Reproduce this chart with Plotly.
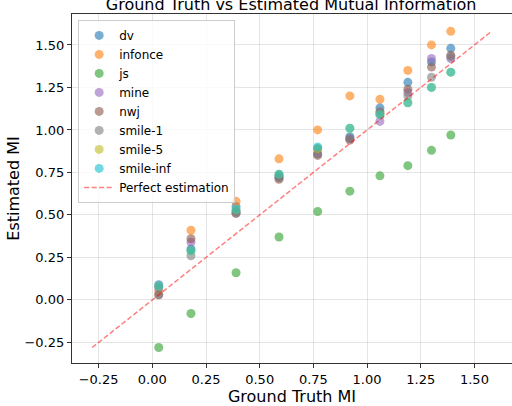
import plotly.graph_objects as go

ground_truth = [0.03, 0.18, 0.39, 0.59, 0.77, 0.92, 1.06, 1.19, 1.30, 1.39]

methods = ["dv", "infonce", "js", "mine", "nwj", "smile-1", "smile-5", "smile-inf"]

dv = [0.09, 0.30, 0.55, 0.73, 0.89, 0.96, 1.13, 1.28, 1.40, 1.48]
infonce = [0.05, 0.41, 0.58, 0.83, 1.00, 1.20, 1.18, 1.35, 1.50, 1.58]
js = [-0.28, -0.08, 0.16, 0.37, 0.52, 0.64, 0.73, 0.79, 0.88, 0.97]
mine = [0.07, 0.34, 0.52, 0.72, 0.86, 0.95, 1.05, 1.22, 1.42, 1.42]
nwj = [0.03, 0.36, 0.51, 0.71, 0.85, 0.94, 1.10, 1.24, 1.37, 1.44]
smile_1 = [0.03, 0.26, 0.51, 0.72, 0.86, 0.95, 1.11, 1.20, 1.31, 1.43]
smile_5 = [0.08, 0.29, 0.53, 0.74, 0.89, 1.01, 1.09, 1.16, 1.25, 1.34]
smile_inf = [0.08, 0.29, 0.53, 0.74, 0.90, 1.01, 1.09, 1.16, 1.25, 1.34]

colors = ["#1f77b4", "#ff7f0e", "#2ca02c", "#9467bd", "#8c564b", "#7f7f7f", "#bcbd22", "#17becf"]

series = [dv, infonce, js, mine, nwj, smile_1, smile_5, smile_inf]

fig = go.Figure()
for name, vals, col in zip(methods, series, colors):
    fig.add_trace(go.Scatter(
        x=ground_truth, y=vals, mode="markers", name=name,
        marker=dict(color=col, size=9, opacity=0.6, line=dict(width=0)),
    ))

all_vals = [v for s in series for v in s]
lo, hi = min(all_vals), max(all_vals)
fig.add_trace(go.Scatter(
    x=[lo, hi], y=[lo, hi], mode="lines", name="Perfect estimation",
    line=dict(color="rgba(255,0,0,0.5)", width=1.5, dash="5px,2.5px"),
))

axis_common = dict(
    showline=True, linecolor="#333333", linewidth=1.2, mirror=True,
    ticks="outside", ticklen=4, tickcolor="#333333",
    showgrid=True, gridcolor="rgba(0,0,0,0.1)", gridwidth=1,
    zeroline=False, automargin=False,
    tickfont=dict(size=13, color="black", family="DejaVu Sans"),
    tickformat=".2f", dtick=0.25,
)

fig.update_layout(
    width=512, height=406,
    margin=dict(l=72, r=0, t=14, b=43),
    paper_bgcolor="white", plot_bgcolor="white",
    font=dict(family="DejaVu Sans", color="black"),
    title=dict(text="Ground Truth vs Estimated Mutual Information",
               x=0.5687, xanchor="center", y=0.99, yanchor="middle",
               yref="container", font=dict(size=16, color="black")),
    xaxis=dict(range=[-0.374, 1.675], tick0=0,
               title=dict(text="Ground Truth MI", font=dict(size=16), standoff=2),
               **axis_common),
    yaxis=dict(range=[-0.371, 1.682], tick0=0,
               title=dict(text="Estimated MI", font=dict(size=16), standoff=0),
               **axis_common),
    legend=dict(x=0.014, y=0.983, xanchor="left", yanchor="top",
                bgcolor="rgba(255,255,255,0.8)", bordercolor="#cccccc", borderwidth=1,
                font=dict(size=12, family="DejaVu Sans"), tracegroupgap=0,
                itemwidth=30),
    showlegend=True,
)

fig.write_html("out.html", config={"displayModeBar": False},
               post_script="document.body.style.margin='0';document.body.style.overflow='hidden';")
